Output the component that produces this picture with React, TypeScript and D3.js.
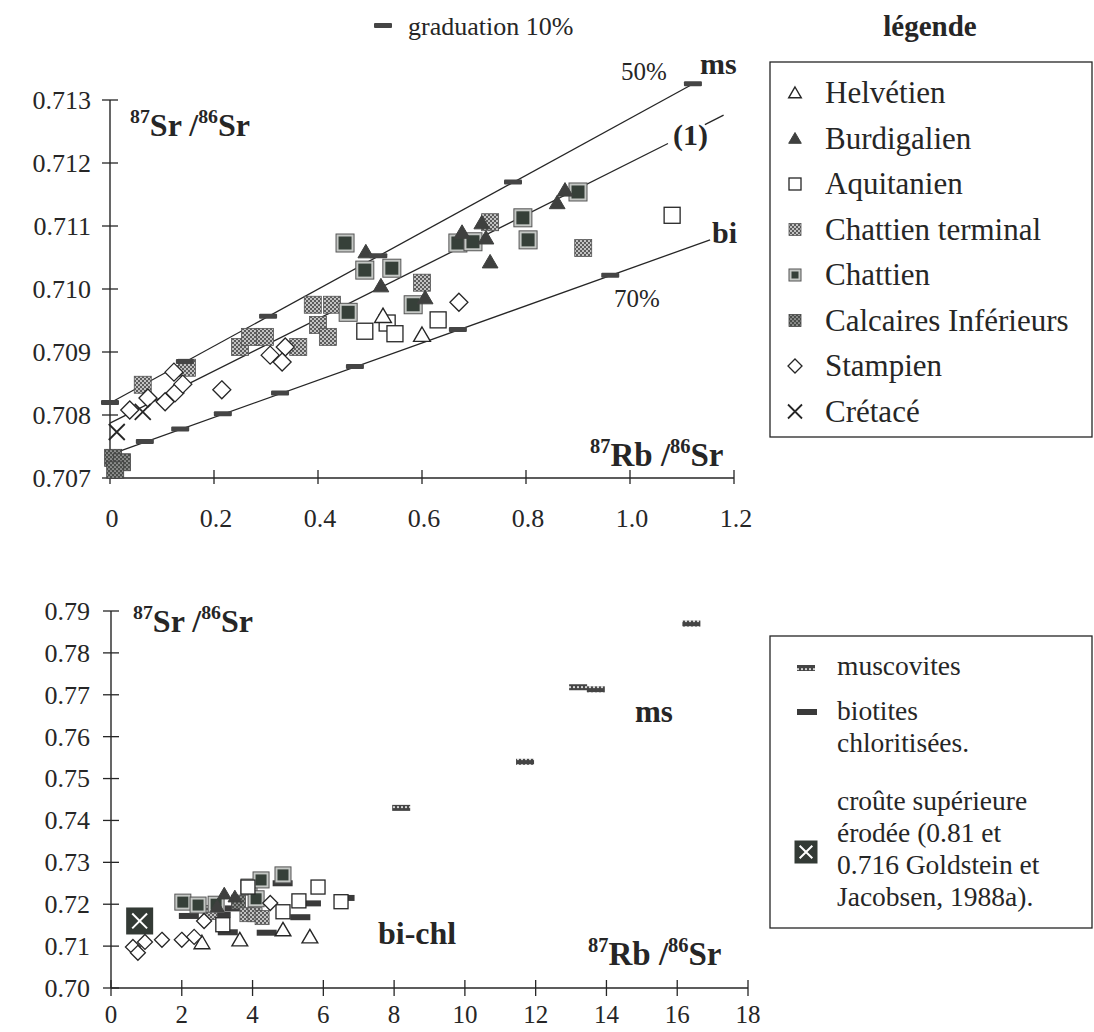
import React from "react";
import * as d3 from "d3";

const W = 1094;
const H = 1032;
const FONT = "'Liberation Serif', 'Times New Roman', serif";
const INK = "#262626";

// ---- axes ----
const topXTicks = [0, 0.2, 0.4, 0.6, 0.8, 1.0, 1.2];
const topXLabels = ["0", "0.2", "0.4", "0.6", "0.8", "1.0", "1.2"];
const topYTicks = [0.707, 0.708, 0.709, 0.71, 0.711, 0.712, 0.713];
const botXTicks = [0, 2, 4, 6, 8, 10, 12, 14, 16, 18];
const botYTicks = [0.7, 0.71, 0.72, 0.73, 0.74, 0.75, 0.76, 0.77, 0.78, 0.79];

// ---- top chart: [87Rb/86Sr, 87Sr/86Sr] ----
const helvetienTop = [[0.600, 0.70927], [0.525, 0.70957]];
const burdigalienTop = [
  [0.492, 0.71059], [0.521, 0.71005], [0.677, 0.7109], [0.723, 0.71081], [0.731, 0.71043],
  [0.606, 0.70986], [0.86, 0.71137], [0.875, 0.71157], [0.715, 0.71105],
];
const aquitanienTop = [[0.49, 0.70933], [0.533, 0.70946], [0.548, 0.70929], [0.631, 0.70951], [1.081, 0.71117]];
const chattienTermTop = [
  [0.731, 0.71106], [0.6, 0.7101], [0.91, 0.71065], [0.39, 0.70975], [0.427, 0.70975],
  [0.4, 0.70943], [0.419, 0.70924], [0.362, 0.70908],
  [0.063, 0.70848], [0.148, 0.70875], [0.25, 0.70908], [0.269, 0.70924], [0.298, 0.70924],
];
const chattienTop = [
  [0.452, 0.71073], [0.49, 0.7103], [0.542, 0.71033], [0.669, 0.71073], [0.698, 0.71075],
  [0.794, 0.71113], [0.804, 0.71078], [0.9, 0.71154], [0.583, 0.70975], [0.458, 0.70963],
];
const calcairesTop = [[0.006, 0.70732], [0.023, 0.70725], [0.01, 0.70713]];
const stampienTop = [
  [0.038, 0.70808], [0.073, 0.70827], [0.106, 0.70821], [0.125, 0.70835], [0.14, 0.70849],
  [0.123, 0.70868], [0.215, 0.7084], [0.308, 0.70895], [0.337, 0.70908], [0.331, 0.70884],
  [0.671, 0.70979],
];
const cretaceTop = [[0.013, 0.70773], [0.063, 0.70805]];

// mixing lines and 10% graduations
const msLine = [[0, 0.70819], [1.12, 0.71325]];
const msMarks = [[0, 0.70819], [0.144, 0.70884], [0.304, 0.70956], [0.516, 0.71052], [0.775, 0.71169], [1.121, 0.71325]];
const biLine = [[0, 0.70737], [1.154, 0.71078]];
const biMarks = [[0.067, 0.70757], [0.135, 0.70777], [0.217, 0.70801], [0.327, 0.70834], [0.471, 0.70876], [0.669, 0.70935], [0.962, 0.71021]];
const line1 = [[0, 0.70787], [1.073, 0.71231]];
const line1Tail = [[1.144, 0.71261], [1.18, 0.71276]];

// ---- bottom chart ----
const stampienBot = [[0.62, 0.7098], [0.76, 0.7084], [0.96, 0.711], [1.44, 0.7115], [2.0, 0.7115], [2.35, 0.7122], [2.63, 0.716], [4.5, 0.7203]];
const helvetienBot = [[2.57, 0.7108], [3.64, 0.7115], [4.86, 0.7139], [5.62, 0.7122]];
const aquitanienBot = [[5.85, 0.7241], [5.31, 0.7208], [4.86, 0.7182], [6.5, 0.7206], [3.16, 0.7151], [3.87, 0.7241]];
const chattienBot = [[2.03, 0.7205], [2.46, 0.7198], [2.97, 0.72], [3.9, 0.7241], [4.24, 0.7258], [4.86, 0.727], [4.1, 0.7213]];
const burdigalienBot = [[3.2, 0.7225], [3.5, 0.7218], [3.0, 0.7195]];
const chattienTermBot = [[3.84, 0.7175], [4.07, 0.7175], [4.27, 0.7168], [2.8, 0.718]];
const calcairesBot = [[3.6, 0.7205]];
const biotites = [[2.2, 0.7172], [3.1, 0.7175], [3.3, 0.7133], [4.4, 0.7132], [4.85, 0.725], [5.35, 0.7169], [5.65, 0.7202], [6.6, 0.7215], [3.5, 0.719]];
const muscovites = [[8.2, 0.743], [11.7, 0.754], [13.2, 0.7718], [13.7, 0.7713], [16.4, 0.787]];
const croute = [[0.81, 0.716]];

const legendTop = ["Helvétien", "Burdigalien", "Aquitanien", "Chattien terminal", "Chattien", "Calcaires Inférieurs", "Stampien", "Crétacé"];
const legendTopKinds = ["triOpen", "triFill", "sqOpen", "checker", "chattien", "calcaires", "diamond", "cross"];
const crouteLines = ["croûte supérieure", "érodée (0.81 et", "0.716 Goldstein et", "Jacobsen, 1988a)."];

const Marker = ({ kind, x, y, s }: { kind: string; x: number; y: number; s: number }) => {
  const h = s / 2;
  if (kind === "triOpen" || kind === "triFill") {
    const d = `M${x},${y - h} L${x + h * 1.05},${y + h * 0.8} L${x - h * 1.05},${y + h * 0.8} Z`;
    return kind === "triOpen"
      ? <path d={d} fill="#fff" stroke={INK} strokeWidth={1.4} />
      : <path d={d} fill="#3f403f" stroke="#3f403f" strokeWidth={1} />;
  }
  if (kind === "sqOpen") return <rect x={x - h} y={y - h} width={s} height={s} fill="#fff" stroke={INK} strokeWidth={1.3} />;
  if (kind === "checker") return <rect x={x - h} y={y - h} width={s} height={s} fill="url(#checker)" stroke="#555" strokeWidth={0.8} />;
  if (kind === "calcaires") return <rect x={x - h} y={y - h} width={s} height={s} fill="url(#checkDark)" stroke="#444" strokeWidth={0.8} />;
  if (kind === "chattien")
    return (
      <g>
        <rect x={x - h} y={y - h} width={s} height={s} fill="#c4c7c4" stroke="#555" strokeWidth={1} />
        <rect x={x - h + 2.5} y={y - h + 2.5} width={s - 5} height={s - 5} fill="#364039" />
      </g>
    );
  if (kind === "diamond") {
    const d = `M${x},${y - h} L${x + h},${y} L${x},${y + h} L${x - h},${y} Z`;
    return <path d={d} fill="#fff" stroke={INK} strokeWidth={1.3} />;
  }
  if (kind === "cross")
    return <path d={`M${x - h},${y - h} L${x + h},${y + h} M${x + h},${y - h} L${x - h},${y + h}`} stroke={INK} strokeWidth={1.8} />;
  if (kind === "grad") return <rect x={x - 9} y={y - 3} width={18} height={5} fill="#454545" rx={1} />;
  if (kind === "bio") return <rect x={x - 10} y={y - 3} width={20} height={6} fill="#3a3a3a" />;
  if (kind === "musc") return <rect x={x - 9} y={y - 3} width={18} height={6} fill="url(#musc)" />;
  if (kind === "croute")
    return (
      <g>
        <rect x={x - h} y={y - h} width={s} height={s} fill="#333a35" />
        <path d={`M${x - h * 0.55},${y - h * 0.55} L${x + h * 0.55},${y + h * 0.55} M${x + h * 0.55},${y - h * 0.55} L${x - h * 0.55},${y + h * 0.55}`} stroke="#fff" strokeWidth={2} />
      </g>
    );
  return null;
};

const RatioLabel = ({ x, y, a, b, size }: { x: number; y: number; a: string; b: string; size: number }) => (
  <text x={x} y={y} fontWeight="bold" fill={INK} fontSize={size}>
    <tspan fontSize={size * 0.62} dy={-size * 0.4}>{a.slice(0, 2)}</tspan>
    <tspan dy={size * 0.4}>{a.slice(2)}</tspan>
    <tspan> /</tspan>
    <tspan fontSize={size * 0.62} dy={-size * 0.4}>{b.slice(0, 2)}</tspan>
    <tspan dy={size * 0.4}>{b.slice(2)}</tspan>
  </text>
);

export default function App() {
  const tx = d3.scaleLinear().domain([0, 1.2]).range([110, 734]);
  const ty = d3.scaleLinear().domain([0.707, 0.713]).range([478, 100]);
  const bx = d3.scaleLinear().domain([0, 18]).range([111, 748]);
  const by = d3.scaleLinear().domain([0.7, 0.79]).range([988, 611]);

  const topLine = d3.line<number[]>().x((d) => tx(d[0])).y((d) => ty(d[1]));

  const pts = (data: number[][], kind: string, s: number, xs: any, ys: any, key: string) =>
    data.map((d, i) => <Marker key={`${key}${i}`} kind={kind} x={xs(d[0])} y={ys(d[1])} s={s} />);

  return (
    <svg width={W} height={H} style={{ position: "absolute", left: 0, top: 0, background: "#fff" }} fontFamily={FONT}>
      <defs>
        <pattern id="checker" width={4} height={4} patternUnits="userSpaceOnUse">
          <rect width={4} height={4} fill="#5c5c5c" />
          <circle cx={1} cy={1} r={0.95} fill="#eee" />
          <circle cx={3} cy={3} r={0.95} fill="#eee" />
        </pattern>
        <pattern id="checkDark" width={4} height={4} patternUnits="userSpaceOnUse">
          <rect width={4} height={4} fill="#4a4d4a" />
          <circle cx={1} cy={1} r={0.85} fill="#c0c0c0" />
          <circle cx={3} cy={3} r={0.85} fill="#c0c0c0" />
        </pattern>
        <pattern id="musc" width={4} height={6} patternUnits="userSpaceOnUse">
          <rect width={4} height={6} fill="#444" />
          <circle cx={2} cy={3.2} r={1.1} fill="#ddd" />
        </pattern>
      </defs>

      {/* ---------- top chart ---------- */}
      <g fill={INK}>
        <line x1={tx(0)} x2={tx(0)} y1={ty(0.713)} y2={ty(0.707)} stroke={INK} strokeWidth={1.4} />
        <line x1={tx(0)} x2={tx(1.2)} y1={ty(0.707)} y2={ty(0.707)} stroke={INK} strokeWidth={1.4} />
        {topYTicks.map((v) => (
          <g key={`ty${v}`}>
            <line x1={tx(0) - 8} x2={tx(0) + 8} y1={ty(v)} y2={ty(v)} stroke={INK} strokeWidth={1.3} />
            <text x={91} y={ty(v)} dy="0.34em" textAnchor="end" fontSize={26}>{v.toFixed(3)}</text>
          </g>
        ))}
        {topXTicks.map((v, i) => (
          <g key={`tx${v}`}>
            <line x1={tx(v)} x2={tx(v)} y1={ty(0.707) - 8} y2={ty(0.707) + 6} stroke={INK} strokeWidth={1.3} />
            <text x={tx(v) + 2} y={527} textAnchor="middle" fontSize={26}>{topXLabels[i]}</text>
          </g>
        ))}

        <path d={topLine(msLine) || ""} stroke={INK} strokeWidth={1.3} fill="none" />
        <path d={topLine(biLine) || ""} stroke={INK} strokeWidth={1.3} fill="none" />
        <path d={topLine(line1) || ""} stroke={INK} strokeWidth={1.3} fill="none" />
        <path d={topLine(line1Tail) || ""} stroke={INK} strokeWidth={1.3} fill="none" />

        {pts(calcairesTop, "calcaires", 17, tx, ty, "ca")}
        {pts(chattienTermTop, "checker", 17, tx, ty, "ct")}
        {pts(chattienTop, "chattien", 18, tx, ty, "ch")}
        {pts(aquitanienTop, "sqOpen", 16, tx, ty, "aq")}
        {pts(helvetienTop, "triOpen", 16, tx, ty, "he")}
        {pts(burdigalienTop, "triFill", 15, tx, ty, "bu")}
        {pts(stampienTop, "diamond", 18, tx, ty, "st")}
        {pts(cretaceTop, "cross", 16, tx, ty, "cr")}
        {pts(msMarks, "grad", 0, tx, ty, "mm")}
        {pts(biMarks, "grad", 0, tx, ty, "bm")}

        <RatioLabel x={130} y={136} a="87Sr" b="86Sr" size={32} />
        <RatioLabel x={590} y={466} a="87Rb" b="86Sr" size={33} />
        <text x={621} y={80} fontSize={25}>50%</text>
        <text x={700} y={74} fontSize={30} fontWeight="bold">ms</text>
        <text x={673} y={145} fontSize={30} fontWeight="bold">(1)</text>
        <text x={712} y={243} fontSize={30} fontWeight="bold">bi</text>
        <text x={614} y={307} fontSize={25}>70%</text>

        <Marker kind="grad" x={383} y={26} s={0} />
        <text x={408} y={35} fontSize={26}>graduation 10%</text>
        <text x={930} y={36} fontSize={29} fontWeight="bold" textAnchor="middle">légende</text>
      </g>

      {/* ---------- top legend ---------- */}
      <g fill={INK}>
        <rect x={770} y={62} width={322} height={375} fill="none" stroke={INK} strokeWidth={1.3} />
        {legendTop.map((t, i) => {
          const cy = 93 + i * 45.5;
          const k = legendTopKinds[i];
          const s = k === "diamond" || k === "cross" ? 14 : 12;
          return (
            <g key={t}>
              <Marker kind={k} x={795} y={cy} s={s} />
              <text x={825} y={cy + 10} fontSize={31}>{t}</text>
            </g>
          );
        })}
      </g>

      {/* ---------- bottom chart ---------- */}
      <g fill={INK}>
        <line x1={bx(0)} x2={bx(0)} y1={by(0.79)} y2={by(0.7)} stroke={INK} strokeWidth={1.4} />
        <line x1={bx(0)} x2={bx(18)} y1={by(0.7)} y2={by(0.7)} stroke={INK} strokeWidth={1.4} />
        {botYTicks.map((v) => (
          <g key={`by${v}`}>
            <line x1={bx(0) - 8} x2={bx(0) + 8} y1={by(v)} y2={by(v)} stroke={INK} strokeWidth={1.3} />
            <text x={90} y={by(v)} dy="0.34em" textAnchor="end" fontSize={26}>{v.toFixed(2)}</text>
          </g>
        ))}
        {botXTicks.map((v) => (
          <g key={`bx${v}`}>
            <line x1={bx(v)} x2={bx(v)} y1={by(0.7) - 8} y2={by(0.7) + 8} stroke={INK} strokeWidth={1.3} />
            <text x={bx(v)} y={1023} textAnchor="middle" fontSize={25}>{v}</text>
          </g>
        ))}

        {pts(croute, "croute", 27, bx, by, "cu")}
        {pts(biotites, "bio", 0, bx, by, "bi")}
        {pts(calcairesBot, "calcaires", 14, bx, by, "ca")}
        {pts(chattienTermBot, "checker", 14, bx, by, "ct")}
        {pts(chattienBot, "chattien", 16, bx, by, "ch")}
        {pts(burdigalienBot, "triFill", 13, bx, by, "bu")}
        {pts(aquitanienBot, "sqOpen", 14, bx, by, "aq")}
        {pts(helvetienBot, "triOpen", 15, bx, by, "he")}
        {pts(stampienBot, "diamond", 15, bx, by, "st")}
        {pts(muscovites, "musc", 0, bx, by, "mu")}

        <RatioLabel x={133} y={632} a="87Sr" b="86Sr" size={32} />
        <RatioLabel x={588} y={965} a="87Rb" b="86Sr" size={33} />
        <text x={635} y={722} fontSize={31} fontWeight="bold">ms</text>
        <text x={378} y={944} fontSize={32} fontWeight="bold">bi-chl</text>
      </g>

      {/* ---------- bottom legend ---------- */}
      <g fill={INK} fontSize={27.5}>
        <rect x={770} y={636} width={322} height={292} fill="none" stroke={INK} strokeWidth={1.3} />
        <Marker kind="musc" x={806} y={668} s={0} />
        <text x={837} y={675}>muscovites</text>
        <Marker kind="bio" x={807} y={712} s={0} />
        <text x={837} y={720}>biotites</text>
        <text x={837} y={752}>chloritisées.</text>
        <Marker kind="croute" x={806} y={852} s={23} />
        {crouteLines.map((t, i) => (
          <text key={t} x={837} y={810 + i * 32}>{t}</text>
        ))}
      </g>
    </svg>
  );
}
